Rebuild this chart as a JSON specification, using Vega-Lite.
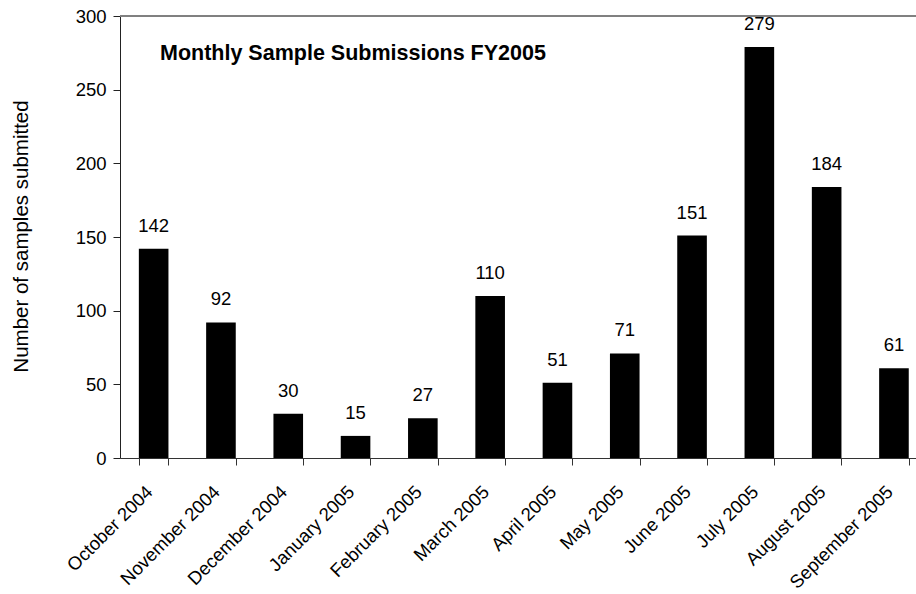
{
  "$schema": "https://vega.github.io/schema/vega-lite/v6.json",
  "width": 796,
  "height": 442,
  "autosize": "none",
  "padding": {"left": 120, "top": 16, "right": 0, "bottom": 136},
  "background": "white",
  "config": {
    "view": {"stroke": null},
    "font": "Liberation Sans",
    "axis": {"grid": false, "labelColor": "black", "titleColor": "black", "labelFont": "Liberation Sans", "titleFont": "Liberation Sans"}
  },
  "title": {
    "text": "Monthly Sample Submissions FY2005",
    "anchor": "start",
    "frame": "group",
    "orient": "top",
    "baseline": "alphabetic",
    "offset": -44,
    "dx": 40,
    "dy": 30,
    "fontSize": 21.5,
    "fontWeight": "bold",
    "color": "black",
    "font": "Liberation Sans"
  },
  "data": {
    "values": [
      {"month": "October 2004", "count": 142},
      {"month": "November 2004", "count": 92},
      {"month": "December 2004", "count": 30},
      {"month": "January 2005", "count": 15},
      {"month": "February 2005", "count": 27},
      {"month": "March 2005", "count": 110},
      {"month": "April 2005", "count": 51},
      {"month": "May 2005", "count": 71},
      {"month": "June 2005", "count": 151},
      {"month": "July 2005", "count": 279},
      {"month": "August 2005", "count": 184},
      {"month": "September 2005", "count": 61}
    ]
  },
  "encoding": {
    "x": {
      "field": "month",
      "type": "nominal",
      "sort": null,
      "scale": {"paddingInner": 0.56, "paddingOuter": 0.28, "range": [0, 807.6]},
      "axis": {
        "title": null,
        "labelAngle": -45,
        "labelAlign": "right",
        "labelBaseline": "top",
        "labelOffset": -11,
        "labelPadding": 17,
        "labelFontSize": 18.5,
        "labelOverlap": false,
        "labelBound": false,
        "tickSize": 7,
        "tickBand": "extent",
        "domainColor": "#333333",
        "tickColor": "#333333"
      }
    },
    "y": {
      "field": "count",
      "type": "quantitative",
      "scale": {"domain": [0, 300], "nice": false},
      "axis": {
        "values": [0, 50, 100, 150, 200, 250, 300],
        "title": "Number of samples submitted",
        "titleFontSize": 20.5,
        "titleFontWeight": "normal",
        "titleAngle": -90,
        "titleX": -99,
        "titleY": 220,
        "titleAlign": "center",
        "titleBaseline": "middle",
        "labelFontSize": 18.5,
        "labelPadding": 7,
        "tickSize": 7,
        "domainColor": "#222222",
        "tickColor": "#222222"
      }
    }
  },
  "layer": [
    {
      "mark": {"type": "rule", "color": "#808080", "strokeWidth": 1},
      "encoding": {"y": {"datum": 300}, "x": {"value": 0}, "x2": {"value": 796}}
    },
    {
      "mark": {"type": "bar", "color": "black"}
    },
    {
      "mark": {"type": "text", "baseline": "alphabetic", "dy": -17, "fontSize": 18.5, "color": "black", "font": "Liberation Sans"},
      "encoding": {"text": {"field": "count", "type": "quantitative"}}
    }
  ]
}
